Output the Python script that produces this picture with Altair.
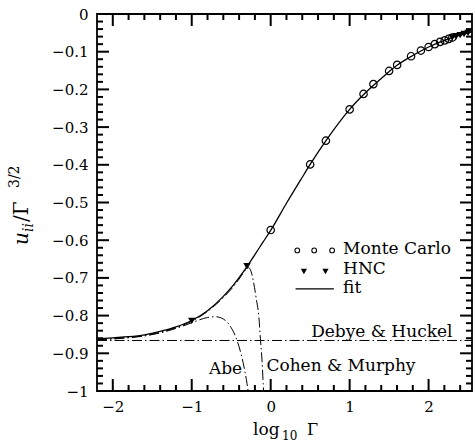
import altair as alt
import pandas as pd

# ---------------- data ----------------
fit_x = [-2.2, -2.0, -1.8, -1.6, -1.4, -1.2, -1.0, -0.8, -0.6, -0.5, -0.4, -0.3, -0.2, -0.1,
         0.0, 0.2, 0.4, 0.5, 0.7, 1.0, 1.2, 1.4, 1.6, 1.8, 2.0, 2.2, 2.4, 2.55]
fit_y = [-0.862, -0.859, -0.856, -0.851, -0.842, -0.830, -0.813, -0.787, -0.749, -0.726, -0.699,
         -0.670, -0.638, -0.606, -0.574, -0.502, -0.433, -0.399, -0.336, -0.253, -0.209, -0.171,
         -0.136, -0.110, -0.0875, -0.070, -0.056, -0.047]

mc_x = [0.0, 0.5, 0.699, 1.0, 1.176, 1.301, 1.5, 1.602, 1.778, 1.903, 2.0, 2.079, 2.146, 2.204, 2.255, 2.301]
mc_y = [-0.573, -0.399, -0.336, -0.253, -0.212, -0.186, -0.151, -0.135, -0.112, -0.097, -0.0875,
        -0.080, -0.074, -0.070, -0.066, -0.0625]

hnc_x = [-1.0, -0.3, 2.30, 2.35, 2.40, 2.45, 2.50]
hnc_y = [-0.814, -0.669, -0.0625, -0.059, -0.056, -0.053, -0.050]

abe_x = [-2.2, -2.0, -1.8, -1.6, -1.4, -1.2, -1.0, -0.9, -0.8, -0.7, -0.6, -0.5, -0.45, -0.4,
         -0.35, -0.3, -0.28]
abe_y = [-0.864, -0.862, -0.859, -0.854, -0.846, -0.834, -0.819, -0.811, -0.805, -0.803, -0.809,
         -0.832, -0.853, -0.883, -0.924, -0.980, -1.009]

cm_x = [-2.2, -2.0, -1.6, -1.2, -1.0, -0.8, -0.6, -0.5, -0.4, -0.32, -0.28, -0.25, -0.22, -0.18,
        -0.15, -0.13, -0.11, -0.095, -0.088]
cm_y = [-0.864, -0.861, -0.853, -0.832, -0.815, -0.789, -0.752, -0.730, -0.703, -0.680, -0.673,
        -0.682, -0.708, -0.759, -0.803, -0.862, -0.918, -0.980, -1.01]

dh_x = [-2.2, 2.55]
dh_y = [-0.866, -0.866]

x_major = [-2, -1, 0, 1, 2]
x_minor = [-1.8, -1.6, -1.4, -1.2, -0.8, -0.6, -0.4, -0.2, 0.2, 0.4, 0.6, 0.8,
           1.2, 1.4, 1.6, 1.8, 2.2, 2.4]
y_major = [0, -0.1, -0.2, -0.3, -0.4, -0.5, -0.6, -0.7, -0.8, -0.9, -1]
y_minor = [round(-0.02 * k, 2) for k in range(1, 50) if k % 5 != 0]

# ---------------- layout helpers ----------------
W, H = 375, 377
XMIN, XMAX, YMIN, YMAX = -2.2, 2.55, -1.0, 0.0
FONT = "DejaVu Serif"
xs = alt.Scale(domain=[XMIN, XMAX], nice=False, zero=False)
ys = alt.Scale(domain=[YMIN, YMAX], nice=False, zero=False)
xax = alt.Axis(values=x_major, format="d", title=None, ticks=False, domain=False, grid=False,
               labelPadding=8, labelFont=FONT, labelFontSize=15, labelColor="black")
yax = alt.Axis(values=y_major, format=".1~f", title=None, ticks=False, domain=False, grid=False,
               labelPadding=9, labelFont=FONT, labelFontSize=15, labelColor="black")
PX_X = (XMAX - XMIN) / W   # data units per pixel along x
PX_Y = (YMAX - YMIN) / H   # data units per pixel along y


def X(field=None, datum=None):
    if datum is not None:
        return alt.X(datum=datum, type="quantitative", scale=xs, axis=xax)
    return alt.X(field, type="quantitative", scale=xs, axis=xax)


def Y(field=None, datum=None):
    if datum is not None:
        return alt.Y(datum=datum, type="quantitative", scale=ys, axis=yax)
    return alt.Y(field, type="quantitative", scale=ys, axis=yax)


def df(xv, yv):
    return pd.DataFrame({"x": xv, "y": yv})


one = pd.DataFrame({"a": [0]})
dashdot = [10, 3, 1.5, 3]
layers = []

# curves
layers.append(alt.Chart(df(dh_x, dh_y)).mark_line(color="black", strokeWidth=1, strokeDash=dashdot, clip=True)
              .encode(x=X("x"), y=Y("y")))
layers.append(alt.Chart(df(abe_x, abe_y)).mark_line(color="black", strokeWidth=1, strokeDash=dashdot,
                                                    clip=True, interpolate="monotone")
              .encode(x=X("x"), y=Y("y")))
layers.append(alt.Chart(df(cm_x, cm_y)).mark_line(color="black", strokeWidth=1, strokeDash=dashdot,
                                                  clip=True, interpolate="monotone")
              .encode(x=X("x"), y=Y("y")))
layers.append(alt.Chart(df(fit_x, fit_y)).mark_line(color="black", strokeWidth=1.3, clip=True,
                                                    interpolate="monotone")
              .encode(x=X("x"), y=Y("y")))
# points
layers.append(alt.Chart(df(mc_x, mc_y)).mark_point(shape="circle", filled=False, color="black",
                                                   size=55, strokeWidth=1.2, opacity=1)
              .encode(x=X("x"), y=Y("y")))
layers.append(alt.Chart(df(hnc_x, hnc_y)).mark_point(shape="triangle-down", filled=True, color="black",
                                                     size=55, opacity=1)
              .encode(x=X("x"), y=Y("y")))


# ticks (inside, on all four sides), one rule segment per tick
def seg(x1, x2, y1, y2):
    return (alt.Chart(one).mark_rule(color="black", strokeWidth=2)
            .encode(x=X(datum=x1), x2=alt.X2(datum=x2), y=Y(datum=y1), y2=alt.Y2(datum=y2)))


def tick_layers(vals, length, axis):
    out = []
    for v in vals:
        if axis == "x":
            ly = length * PX_Y
            out.append(seg(v, v, YMIN, YMIN + ly))
            out.append(seg(v, v, YMAX, YMAX - ly))
        else:
            lx = length * PX_X
            out.append(seg(XMIN, XMIN + lx, v, v))
            out.append(seg(XMAX, XMAX - lx, v, v))
    return out


layers += tick_layers(x_major, 12, "x")
layers += tick_layers(x_minor, 6, "x")
layers += tick_layers(y_major, 12, "y")
layers += tick_layers(y_minor, 6, "y")

# legend
for lx in [0.337, 0.551, 0.778]:
    layers.append(alt.Chart(one).mark_point(shape="circle", filled=False, color="black", size=22,
                                            strokeWidth=1.1, opacity=1)
                  .encode(x=X(datum=lx), y=Y(datum=-0.627)))
for lx in [0.421, 0.694]:
    layers.append(alt.Chart(one).mark_point(shape="triangle-down", filled=True, color="black", size=38,
                                            opacity=1)
                  .encode(x=X(datum=lx), y=Y(datum=-0.683)))
layers.append(alt.Chart(one).mark_rule(color="black", strokeWidth=1.3)
              .encode(x=X(datum=0.315), x2=alt.X2(datum=0.80), y=Y(datum=-0.729)))


def label(txt, lx, ly, size=17):
    return (alt.Chart(one).mark_text(text=txt, font=FONT, fontSize=size, align="left",
                                     baseline="alphabetic", color="black")
            .encode(x=X(datum=lx), y=Y(datum=ly)))


layers.append(label("Monte Carlo", 0.917, -0.636))
layers.append(label("HNC", 0.917, -0.690))
layers.append(label("fit", 0.917, -0.741))
layers.append(label("Debye & Huckel", 0.513, -0.858))
layers.append(label("Cohen & Murphy", -0.054, -0.946))
layers.append(label("Abe", -0.782, -0.955))


# axis titles composed of pieces (pixel positions relative to the plot area)
def piece(txt, px, py, size, angle=0, italic=False):
    kw = dict(text=txt, font=FONT, fontSize=size, align="left", baseline="alphabetic",
              color="black")
    if italic:
        kw["fontStyle"] = "italic"
    if angle:
        kw["angle"] = angle
    return alt.Chart(one).mark_text(**kw).encode(x=alt.value(px), y=alt.value(py))


layers.append(piece("log", 156, 421, 17))
layers.append(piece("10", 185, 425.5, 12))
layers.append(piece("Γ", 210, 421, 16))

layers.append(piece("u", -69, 231, 20, angle=270, italic=True))
layers.append(piece("ii", -64, 218, 14, angle=270, italic=True))
layers.append(piece("/Γ", -69, 208, 20, angle=270))
layers.append(piece("3/2", -78.5, 174, 14, angle=270))

chart = alt.layer(*layers).properties(
    width=W, height=H,
    autosize=alt.AutoSizeParams(type="none"),
    padding={"left": 97, "top": 14, "right": 3, "bottom": 57},
).configure_view(stroke="black", strokeWidth=1.8)

chart.save("out.html", embed_options={"renderer": "svg", "actions": False})
